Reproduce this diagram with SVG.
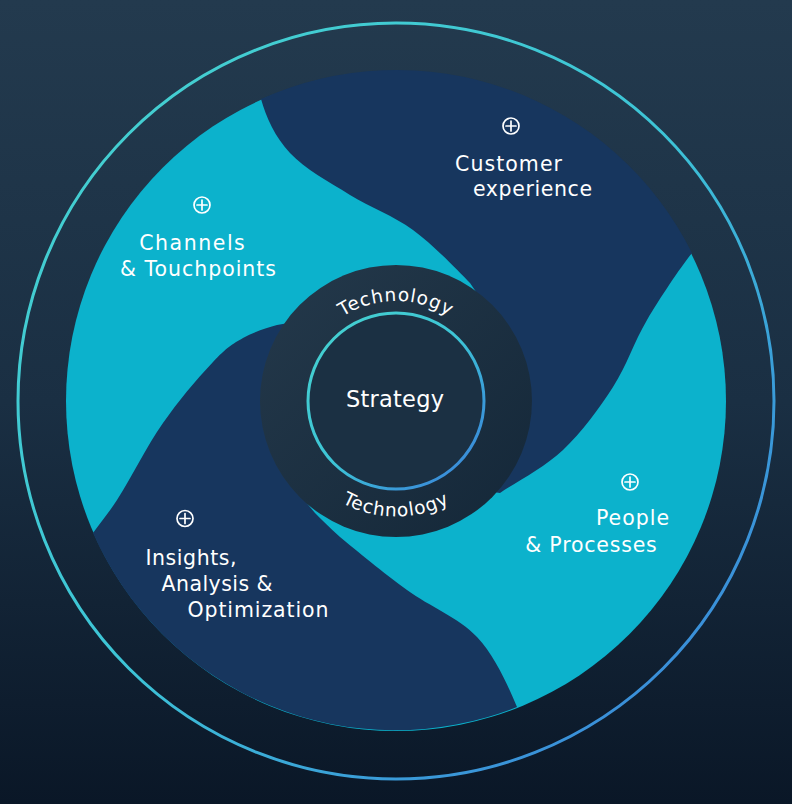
<svg xmlns="http://www.w3.org/2000/svg" width="792" height="804" viewBox="0 0 792 804">
  <defs>
    <linearGradient id="bgGrad" x1="0" y1="0" x2="0" y2="1">
      <stop offset="0" stop-color="#233a4e"/>
      <stop offset="0.5" stop-color="#1a2f43"/>
      <stop offset="1" stop-color="#0a1727"/>
    </linearGradient>
    <linearGradient id="ringGrad" x1="0" y1="0" x2="1" y2="1">
      <stop offset="0" stop-color="#46d2cf"/>
      <stop offset="0.5" stop-color="#3dc4d6"/>
      <stop offset="0.75" stop-color="#3a9bd9"/>
      <stop offset="1" stop-color="#3a80d8"/>
    </linearGradient>
    <linearGradient id="coreGrad" x1="0" y1="0" x2="1" y2="1">
      <stop offset="0" stop-color="#24394b"/>
      <stop offset="1" stop-color="#142738"/>
    </linearGradient>
    <path id="techTop" d="M 309.4,351 A 100 100 0 0 1 482.6,351"/>
    <path id="techBottom" d="M 296,458.75 A 115.5 115.5 0 0 0 496,458.75"/>
  </defs>
  <style>
    .label { font-family: "DejaVu Sans", "Open Sans", "Liberation Sans", sans-serif; font-size: 20.5px; fill: #ffffff; text-anchor: middle; }
    .tech { font-family: "DejaVu Sans", "Open Sans", "Liberation Sans", sans-serif; font-size: 18.5px; fill: #ffffff; letter-spacing: 0.9px; }
    .navy { fill: #17365e; }
    .icon circle { fill: none; stroke: #ffffff; stroke-width: 1.7; }
    .icon line { stroke: #ffffff; stroke-width: 1.7; stroke-linecap: round; }
  </style>

  <rect id="background" x="0" y="0" width="792" height="804" fill="url(#bgGrad)"/>

  <g id="outer-ring">
    <circle cx="396" cy="401" r="378" fill="none" stroke="url(#ringGrad)" stroke-width="3"/>
  </g>

  <g id="disk">
    <circle cx="396" cy="401" r="330" fill="#0cb2cc"/>
  </g>

  <g id="node-customer">
    <path class="navy" d="M 261,99 C 266,117 275,137 290,153 C 304.8,169 329.5,182 350,195 C 370.5,207.8 393,215.3 413,230 C 433,244.7 458,270.5 470,283 L 485,305 L 396,401 L 480,490 L 500,493 C 515.5,482.5 544.2,467.7 563,450 C 581.8,432.3 599,408.7 613,387 C 627,365.3 633.8,342.3 647,320 C 660.2,297.7 681,266.5 692,253 A 330 330 0 0 0 261,99 Z"/>
    <g class="icon"><circle cx="511" cy="126" r="8"/><line x1="506" y1="126" x2="516" y2="126"/><line x1="511" y1="121" x2="511" y2="131"/></g>
    <text class="label" x="508.5" y="170.5" textLength="107" lengthAdjust="spacing">Customer</text>
    <text class="label" x="532.5" y="195.5" textLength="119" lengthAdjust="spacing">experience</text>
  </g>

  <g id="node-insights">
    <path class="navy" d="M 517,707 C 508.5,687 495.3,656.5 477,637 C 458.7,617.5 429.8,606.7 407,590 C 384.2,573.3 355.3,549.8 340,537 C 330,528 322,520 315,513 L 300,495 L 396,401 L 300,321 L 277,325 C 267.5,327.8 253.7,331.8 243,338 C 232.3,344.2 226.3,347.8 213,362 C 195,381.2 178,401.4 163,423 C 145.9,447.5 133.1,474.7 117,500 C 109.7,511.5 101,522 93,533 A 330 330 0 0 0 517,707 Z"/>
    <g class="icon"><circle cx="185" cy="518.5" r="8"/><line x1="180" y1="518.5" x2="190" y2="518.5"/><line x1="185" y1="513.5" x2="185" y2="523.5"/></g>
    <text class="label" x="191" y="565" textLength="91" lengthAdjust="spacing">Insights,</text>
    <text class="label" x="217" y="591" textLength="111" lengthAdjust="spacing">Analysis &amp;</text>
    <text class="label" x="258" y="616.5" textLength="141" lengthAdjust="spacing">Optimization</text>
  </g>

  <g id="node-channels">
    <g class="icon"><circle cx="202" cy="205" r="8"/><line x1="197" y1="205" x2="207" y2="205"/><line x1="202" y1="200" x2="202" y2="210"/></g>
    <text class="label" x="192" y="249.5" textLength="105.6" lengthAdjust="spacing">Channels</text>
    <text class="label" x="198" y="275.5" textLength="156" lengthAdjust="spacing">&amp; Touchpoints</text>
  </g>

  <g id="node-people">
    <g class="icon"><circle cx="630" cy="482" r="8"/><line x1="625" y1="482" x2="635" y2="482"/><line x1="630" y1="477" x2="630" y2="487"/></g>
    <text class="label" x="632.5" y="525" textLength="73" lengthAdjust="spacing">People</text>
    <text class="label" x="591" y="551.5" textLength="131.6" lengthAdjust="spacing">&amp; Processes</text>
  </g>

  <g id="node-technology">
    <circle cx="396" cy="401" r="136" fill="url(#coreGrad)"/>
    <text class="tech"><textPath href="#techTop" startOffset="50%" text-anchor="middle">Technology</textPath></text>
    <text class="tech"><textPath href="#techBottom" startOffset="50%" text-anchor="middle">Technology</textPath></text>
  </g>

  <g id="node-strategy">
    <circle cx="396" cy="401" r="88" fill="#1b3043" stroke="url(#ringGrad)" stroke-width="3"/>
    <text class="label" x="395" y="407" style="font-size:22.5px" textLength="98" lengthAdjust="spacing">Strategy</text>
  </g>

  <g id="connectors"/>
</svg>
